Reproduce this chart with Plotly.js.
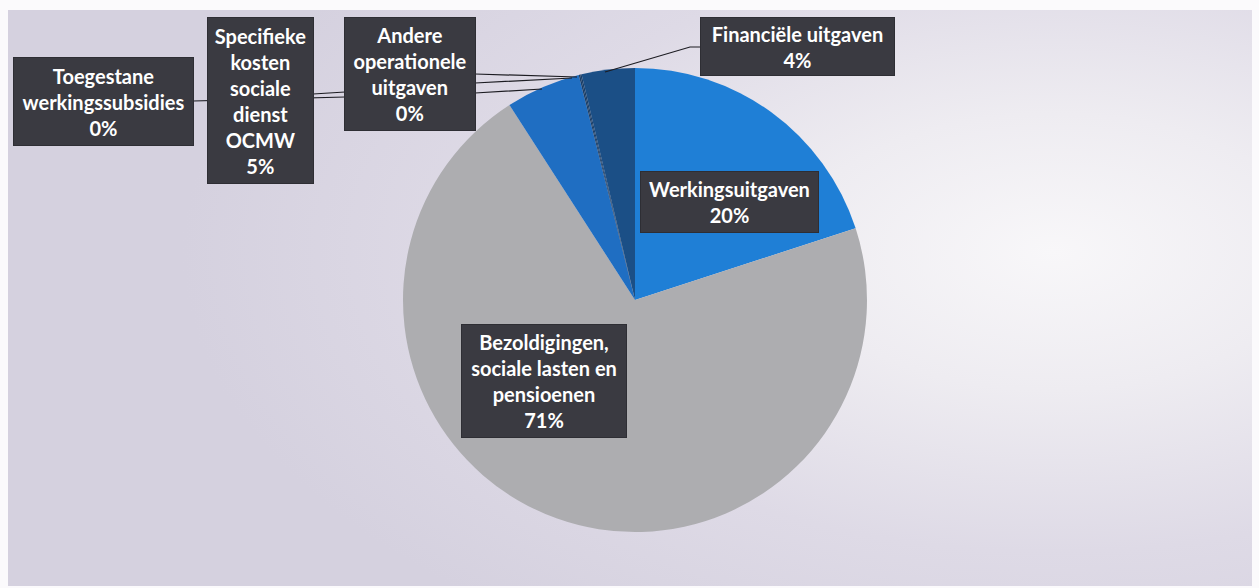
<!DOCTYPE html>
<html>
<head>
<meta charset="utf-8">
<script src="https://cdn.plot.ly/plotly-3.0.1.min.js"></script>
<style>
  html, body { margin: 0; padding: 0; background: #fbfafc; }
  #wrap { position: relative; width: 1259px; height: 588px; overflow: hidden; }
  #bg { position: absolute; left: 8px; top: 10px; width: 1244px; height: 576px;
        background: radial-gradient(ellipse 70% 80% at 84% 42%, #f8f7f9 0%, #eeecf1 30%, #dedae6 65%, #d5d1df 100%); }
  #chart { position: absolute; left: 0; top: 0; width: 1259px; height: 588px; }
</style>
</head>
<body>
<div id="wrap"><div id="bg"></div><div id="chart"></div></div>
<script>
// ---- data ----
const categories = [
  'Werkingsuitgaven',
  'Bezoldigingen, sociale lasten en pensioenen',
  'Specifieke kosten sociale dienst OCMW',
  'Toegestane werkingssubsidies',
  'Andere operationele uitgaven',
  'Financiële uitgaven'
];
const labelLines = [
  ['Werkingsuitgaven'],
  ['Bezoldigingen,', 'sociale lasten en', 'pensioenen'],
  ['Specifieke', 'kosten', 'sociale', 'dienst', 'OCMW'],
  ['Toegestane', 'werkingssubsidies'],
  ['Andere', 'operationele', 'uitgaven'],
  ['Financiële uitgaven']
];
const values = [20.0, 70.9, 5.2, 0.1, 0.1, 3.7];
const sliceColors = ['#1f7fd6', '#adadb0', '#1f6ec2', '#1a3e66', '#1a3e66', '#1b4f86'];

// ---- layout config (pixel coordinates) ----
const W = 1259, H = 588;
const pieCx = 635, pieCy = 300, pieR = 232;
const boxes = [ // center x, center y, width, height
  {cx: 729, cy: 202, w: 177, h: 60},
  {cx: 544, cy: 381, w: 164, h: 112},
  {cx: 260, cy: 100, w: 105, h: 165},
  {cx: 103, cy: 101, w: 179, h: 87},
  {cx: 410, cy: 74,  w: 130, h: 112},
  {cx: 797, cy: 46,  w: 193, h: 57}
];
const leaderPaths = [
  'M193,101 L345,97 L475,93 L542,89',
  'M313,94 L345,92 L475,83 L572,78',
  'M475,74 L577,77',
  'M700,47 L690,47 L605,72'
];

const total = values.reduce((a, b) => a + b, 0);
const pctText = values.map(v => Math.round(v / total * 100) + '%');

const annotations = categories.map((c, i) => ({
  xref: 'x', yref: 'y',
  x: boxes[i].cx, y: boxes[i].cy,
  xanchor: 'center', yanchor: 'middle',
  width: boxes[i].w, height: boxes[i].h,
  text: labelLines[i].join('<br>') + '<br>' + pctText[i],
  showarrow: false,
  align: 'center',
  valign: 'middle',
  bgcolor: '#3a3a41',
  bordercolor: '#2e2e34',
  borderwidth: 1,
  borderpad: 0,
  font: {family: 'Lato, "Open Sans", sans-serif', size: 20, color: '#ffffff', weight: 'bold'}
}));

const shapes = leaderPaths.map(p => ({
  type: 'path', xref: 'x', yref: 'y', path: p,
  line: {color: '#1c1c22', width: 1.2}, layer: 'above'
}));

const traces = [
  {
    type: 'pie',
    labels: categories,
    values: values,
    sort: false,
    direction: 'clockwise',
    rotation: 0,
    textinfo: 'none',
    hoverinfo: 'none',
    marker: {colors: sliceColors, line: {width: 0}},
    domain: {x: [(pieCx - pieR) / W, (pieCx + pieR) / W], y: [(H - pieCy - pieR) / H, (H - pieCy + pieR) / H]},
    showlegend: false
  },
  {type: 'scatter', x: [], y: [], hoverinfo: 'skip', showlegend: false}
];

const layout = {
  width: W, height: H,
  margin: {l: 0, r: 0, t: 0, b: 0},
  paper_bgcolor: 'rgba(0,0,0,0)',
  plot_bgcolor: 'rgba(0,0,0,0)',
  showlegend: false,
  xaxis: {range: [0, W], visible: false, fixedrange: true, domain: [0, 1]},
  yaxis: {range: [H, 0], visible: false, fixedrange: true, domain: [0, 1]},
  annotations: annotations,
  shapes: shapes
};

Plotly.newPlot('chart', traces, layout, {displayModeBar: false, staticPlot: true});
</script>
</body>
</html>
